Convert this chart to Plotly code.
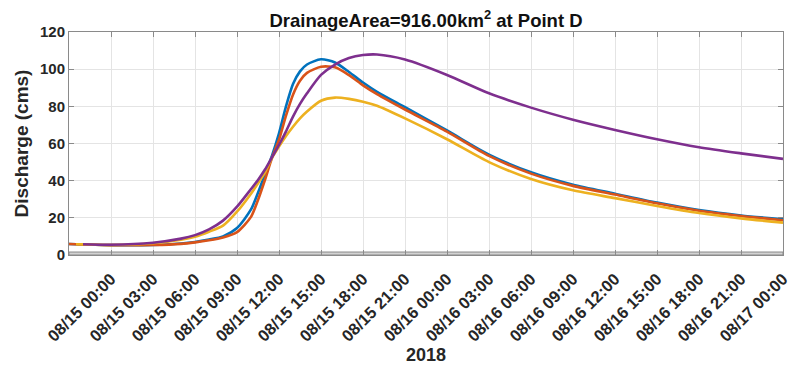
import pandas as pd
import plotly.graph_objects as go

# Hours relative to 2018-08-15 00:00 at which discharges were sampled
hours = [-3, -2.5, -2, 0, 3, 5, 6, 7, 8, 9, 10, 10.5, 11, 11.5, 12, 12.5, 13, 13.5,
         14, 15, 16, 17, 18, 19, 21, 24, 27, 30, 33, 36, 39, 42, 45, 48]

# Discharge (cms) of the four simulated hydrographs
q_blue = [5.9, 5.8, 5.7, 5.3, 5.4, 6.2, 7.0, 8.3, 10.0, 14.5, 24.5, 33.5, 43.5, 53.5,
          65.5, 80, 92, 98.8, 102.5, 105.3, 103.6, 98.5, 92.8, 87.8, 79.5, 67, 54,
          44.5, 37.8, 33, 28.2, 24.2, 21.3, 19.2]
q_orange = [5.9, 5.8, 5.7, 5.3, 5.4, 6.0, 6.8, 7.9, 9.4, 12.3, 20.5, 29.6, 40.5, 52.3,
            62, 75, 86.3, 93.8, 98, 101.3, 101, 96.8, 91.3, 86.6, 78.3, 66.4, 53.3,
            43.8, 37.2, 32.5, 27.8, 23.8, 21.0, 18.7]
q_yellow = [None, 5.8, 5.7, 5.4, 6.3, 8.2, 9.8, 12.5, 15.8, 23.3, 33, 38.6, 44.5, 52.3,
            58.3, 64, 69, 73.5, 77.2, 83, 84.7, 84, 82.5, 80.3, 73.5, 62.3, 50,
            40.9, 34.8, 30.6, 26.4, 22.6, 19.7, 17.4]
q_purple = [None, None, 5.8, 5.5, 6.6, 8.8, 10.7, 13.8, 18.5, 26, 35.5, 40.4, 46, 52.6,
            59.2, 66.5, 74.5, 81.3, 87, 96.9, 102.5, 106, 107.6, 107.9, 105.2, 96.9,
            87, 79.3, 72.8, 67.3, 62.3, 58, 54.7, 51.7]

series = [
    (q_blue, "#0072BD"),
    (q_orange, "#D95319"),
    (q_yellow, "#EDB120"),
    (q_purple, "#7E2F8E"),
]

# Axis ticks (hours from 08/15 00:00) and their labels
tick_hours = [0, 3, 6, 9, 12, 15, 18, 21, 24, 27, 30, 33, 36, 39, 42, 45, 48]
tick_labels = ["08/15 00:00", "08/15 03:00", "08/15 06:00", "08/15 09:00",
               "08/15 12:00", "08/15 15:00", "08/15 18:00", "08/15 21:00",
               "08/16 00:00", "08/16 03:00", "08/16 06:00", "08/16 09:00",
               "08/16 12:00", "08/16 15:00", "08/16 18:00", "08/16 21:00",
               "08/17 00:00"]
y_ticks = [0, 20, 40, 60, 80, 100, 120]

origin = pd.Timestamp("2018-08-15 00:00")


def to_time(h):
    return origin + pd.Timedelta(hours=h)


times = [to_time(h) for h in hours]

fig = go.Figure()
for q, color in series:
    fig.add_trace(go.Scatter(
        x=times, y=q, mode="lines",
        line=dict(color=color, width=2.6, shape="spline", smoothing=0.7),
        showlegend=False,
    ))

axis_color = "#8a8a8a"
text_color = "#262626"
grid_color = "#e4e4e4"

fig.update_layout(
    width=794, height=368,
    margin=dict(l=69, r=11, t=32, b=113),
    paper_bgcolor="white", plot_bgcolor="white",
    font=dict(family="Liberation Sans, Arial, sans-serif", color=text_color),
    title=dict(
        text="<b>DrainageArea=916.00km<sup>2</sup> at Point D</b>",
        x=426 / 794, xanchor="center",
        y=1 - 27 / 368, yanchor="bottom",
        font=dict(size=18.5, color="#111111"),
    ),
)

fig.update_xaxes(
    range=[to_time(-3), to_time(48)],
    automargin=False,
    tickmode="array",
    tickvals=[to_time(h) for h in tick_hours],
    ticktext=["<b>" + s + "</b>" for s in tick_labels],
    tickangle=-45,
    tickfont=dict(size=16.5, color=text_color),
    ticklabelstandoff=7,
    showline=True, linecolor=axis_color, linewidth=1, mirror="ticks",
    ticks="inside", ticklen=5, tickcolor=axis_color,
    showgrid=True, gridcolor=grid_color, gridwidth=1,
    zeroline=False,
    title=dict(text="<b>2018</b>", font=dict(size=18, color=text_color), standoff=4),
)
fig.update_yaxes(
    range=[0, 120],
    automargin=False,
    tickmode="array", tickvals=y_ticks,
    ticktext=["<b>%d</b>" % v for v in y_ticks],
    tickfont=dict(size=15, color=text_color),
    showline=True, linecolor=axis_color, linewidth=1, mirror="ticks",
    ticks="inside", ticklen=5, tickcolor=axis_color,
    showgrid=True, gridcolor=grid_color, gridwidth=1,
    zeroline=False,
    title=dict(text="<b>Discharge (cms)</b>", font=dict(size=19, color=text_color), standoff=6),
)

# thin shaded strip along the bottom edge of the axes
fig.add_shape(type="rect", xref="paper", yref="y", x0=0, x1=1, y0=0, y1=1.6,
              fillcolor="#d2d2d2", line=dict(color=axis_color, width=1), layer="below")

fig.write_html("out.html")
